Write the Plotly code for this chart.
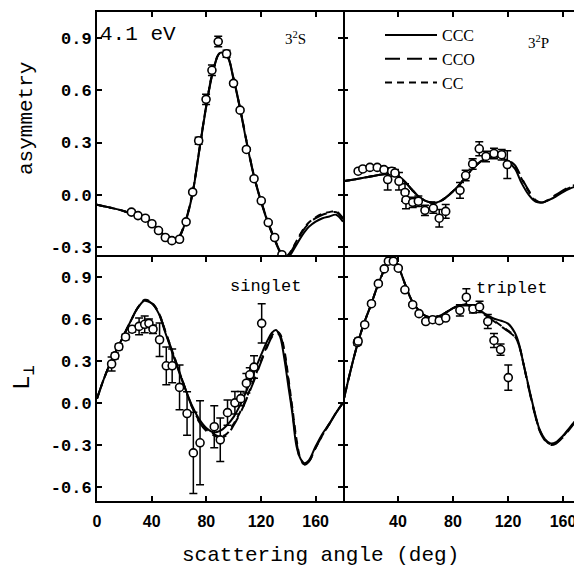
import plotly.graph_objects as go

# ---------------- data ----------------
# 3^2S asymmetry (top-left)
s_ang = [0, 10, 20, 30, 40, 45, 50, 55, 60, 65, 70, 75, 80, 85, 90, 95, 100, 105, 110, 115, 120,
         125, 130, 135, 138, 141, 145, 150, 155, 160, 165, 170, 175, 180]
s_ccc = [-0.058, -0.075, -0.095, -0.125, -0.165, -0.20, -0.24, -0.27, -0.245, -0.15, 0.01, 0.26, 0.51,
         0.71, 0.815, 0.80, 0.66, 0.48, 0.28, 0.10, -0.04, -0.16, -0.26, -0.345, -0.365, -0.35, -0.30,
         -0.235, -0.185, -0.155, -0.135, -0.125, -0.115, -0.155]
s_cco = [-0.058, -0.075, -0.095, -0.125, -0.165, -0.20, -0.24, -0.268, -0.242, -0.145, 0.015, 0.265, 0.515,
         0.715, 0.815, 0.80, 0.665, 0.485, 0.285, 0.105, -0.035, -0.155, -0.255, -0.34, -0.36, -0.34, -0.285,
         -0.215, -0.165, -0.135, -0.115, -0.105, -0.10, -0.14]
s_cc = [-0.058, -0.075, -0.095, -0.125, -0.165, -0.20, -0.24, -0.268, -0.242, -0.145, 0.015, 0.265, 0.515,
        0.715, 0.815, 0.80, 0.665, 0.485, 0.285, 0.105, -0.035, -0.155, -0.255, -0.34, -0.355, -0.335, -0.28,
        -0.21, -0.16, -0.13, -0.11, -0.10, -0.095, -0.135]
s_exp_ang = [25.2, 30, 35.4, 40.2, 45, 50, 54.8, 60.4, 65.2, 70, 74.4, 79.8, 84.1, 88.7, 94.8, 99.9,
             104.7, 109.3, 114.9, 120.2, 125.3, 130, 135.3]
s_exp_val = [-0.10, -0.12, -0.135, -0.167, -0.206, -0.246, -0.264, -0.256, -0.156, 0.015, 0.31, 0.548,
             0.715, 0.88, 0.81, 0.64, 0.486, 0.26, 0.092, -0.035, -0.16, -0.246, -0.345]
s_exp_err = [0.01, 0.01, 0.01, 0.01, 0.01, 0.01, 0.01, 0.01, 0.01, 0.01, 0.02, 0.03, 0.03, 0.03, 0.02,
             0.01, 0.01, 0.01, 0.01, 0.01, 0.01, 0.01, 0.01]

# 3^2P asymmetry (top-right)
p_ang = [0, 10, 20, 30, 35, 40, 45, 50, 55, 60, 65, 70, 75, 80, 85, 90, 95, 100, 105, 110, 115, 120,
         125, 130, 135, 140, 145, 150, 155, 160, 165, 170, 175]
p_ccc = [0.077, 0.09, 0.105, 0.118, 0.12, 0.108, 0.075, 0.03, -0.01, -0.035, -0.045, -0.04, -0.015, 0.02,
         0.06, 0.11, 0.155, 0.19, 0.21, 0.22, 0.215, 0.19, 0.15, 0.065, 0.0, -0.04, -0.045, -0.03, -0.01,
         0.015, 0.035, 0.05, 0.065]
p_cco = [0.077, 0.09, 0.105, 0.118, 0.12, 0.108, 0.075, 0.03, -0.01, -0.035, -0.045, -0.04, -0.015, 0.02,
         0.06, 0.11, 0.155, 0.19, 0.21, 0.22, 0.218, 0.20, 0.17, 0.095, 0.025, -0.03, -0.045, -0.025, 0.0,
         0.025, 0.045, 0.06, 0.075]
p_cc = [0.077, 0.09, 0.105, 0.118, 0.12, 0.108, 0.075, 0.03, -0.01, -0.035, -0.045, -0.04, -0.015, 0.02,
        0.06, 0.11, 0.155, 0.19, 0.21, 0.22, 0.217, 0.195, 0.165, 0.09, 0.02, -0.035, -0.045, -0.028, -0.005,
        0.02, 0.04, 0.055, 0.07]
p_exp_ang = [11, 14.4, 19.6, 24.9, 29.8, 32.5, 35.4, 37.8, 40.7, 45.1, 45.8, 50.7, 54.8, 59.6, 65.7, 70,
             74.7, 85.1, 89.2, 94.3, 99.1, 104, 109.8, 115.4, 119.5]
p_exp_val = [0.135, 0.148, 0.157, 0.157, 0.144, 0.087, 0.135, 0.125, 0.077, 0.013, -0.03, -0.044, -0.038,
             -0.09, -0.077, -0.135, -0.096, 0.025, 0.11, 0.177, 0.264, 0.22, 0.237, 0.23, 0.173]
p_exp_err = [0.01, 0.01, 0.01, 0.01, 0.01, 0.06, 0.02, 0.02, 0.05, 0.05, 0.05, 0.03, 0.03, 0.03, 0.03,
             0.05, 0.04, 0.045, 0.03, 0.03, 0.04, 0.03, 0.03, 0.03, 0.08]

# singlet L_perp (bottom-left)
sg_ang = [0, 5, 10, 15, 20, 25, 30, 35, 40, 45, 50, 55, 60, 65, 70, 75, 80, 85, 90, 95, 100, 105, 110,
          115, 120, 125, 128, 131, 134, 137, 140, 143, 146, 149, 152, 155, 160, 165, 170, 175, 180]
sg_ccc = [0.03, 0.17, 0.29, 0.39, 0.49, 0.59, 0.68, 0.73, 0.71, 0.64, 0.50, 0.36, 0.22, 0.09, -0.03,
          -0.12, -0.18, -0.21, -0.20, -0.16, -0.10, -0.01, 0.10, 0.22, 0.34, 0.45, 0.50, 0.52, 0.47, 0.32,
          0.12, -0.08, -0.31, -0.40, -0.43, -0.41, -0.31, -0.22, -0.15, -0.07, 0.0]
sg_cco = [0.03, 0.17, 0.29, 0.39, 0.49, 0.59, 0.68, 0.725, 0.71, 0.645, 0.51, 0.37, 0.23, 0.09, -0.04,
          -0.14, -0.20, -0.23, -0.25, -0.23, -0.16, -0.07, 0.04, 0.16, 0.29, 0.41, 0.47, 0.50, 0.48, 0.36,
          0.16, -0.06, -0.28, -0.41, -0.44, -0.42, -0.32, -0.23, -0.15, -0.07, 0.0]
sg_cc = [0.03, 0.17, 0.29, 0.39, 0.49, 0.59, 0.68, 0.735, 0.715, 0.645, 0.51, 0.37, 0.23, 0.09, -0.04,
         -0.13, -0.19, -0.22, -0.24, -0.22, -0.15, -0.06, 0.05, 0.17, 0.30, 0.42, 0.48, 0.51, 0.49, 0.38,
         0.18, -0.04, -0.26, -0.40, -0.44, -0.42, -0.32, -0.23, -0.15, -0.07, 0.0]
sg_exp_ang = [10.7, 13.1, 16, 20.9, 25.7, 30.8, 34.9, 38, 41, 45.8, 50.7, 55, 60.4, 65.9, 70.5, 75.4,
              85.8, 90.2, 95.5, 100.9, 105.2, 109.3, 111.8, 114.9, 120.5]
sg_exp_val = [0.277, 0.335, 0.40, 0.47, 0.525, 0.545, 0.56, 0.567, 0.525, 0.45, 0.264, 0.264, 0.11,
              -0.076, -0.357, -0.285, -0.17, -0.264, -0.07, 0.0, 0.03, 0.14, 0.20, 0.255, 0.567]
sg_exp_err = [0.05, 0.02, 0.02, 0.02, 0.02, 0.06, 0.06, 0.03, 0.03, 0.12, 0.135, 0.12, 0.16, 0.155, 0.29,
              0.30, 0.15, 0.155, 0.09, 0.08, 0.05, 0.07, 0.05, 0.08, 0.14]

# triplet L_perp (bottom-right)
tr_ang = [0, 5, 10, 15, 20, 25, 30, 33, 36, 39, 42, 45, 50, 55, 60, 65, 70, 75, 80, 85, 90, 95, 100, 105,
          110, 115, 120, 125, 128, 131, 134, 137, 140, 143, 147, 151, 155, 160, 165, 170, 175]
tr_ccc = [0.0, 0.21, 0.40, 0.56, 0.69, 0.83, 0.95, 1.01, 1.03, 1.0, 0.93, 0.85, 0.73, 0.66, 0.62, 0.61,
          0.62, 0.645, 0.675, 0.695, 0.70, 0.685, 0.655, 0.625, 0.60, 0.585, 0.565, 0.50, 0.42, 0.29, 0.16,
          0.03, -0.09, -0.19, -0.26, -0.29, -0.28, -0.235, -0.175, -0.115, -0.06]
tr_cco = [0.0, 0.21, 0.40, 0.56, 0.69, 0.83, 0.95, 1.01, 1.03, 1.0, 0.93, 0.85, 0.73, 0.66, 0.62, 0.61,
          0.62, 0.645, 0.675, 0.695, 0.70, 0.68, 0.65, 0.615, 0.58, 0.545, 0.51, 0.47, 0.41, 0.29, 0.15,
          0.02, -0.10, -0.20, -0.27, -0.30, -0.29, -0.245, -0.185, -0.125, -0.07]
tr_cc = [0.0, 0.21, 0.40, 0.56, 0.69, 0.83, 0.95, 1.01, 1.03, 1.0, 0.93, 0.85, 0.73, 0.66, 0.62, 0.61,
         0.62, 0.645, 0.675, 0.695, 0.70, 0.682, 0.652, 0.62, 0.585, 0.55, 0.515, 0.475, 0.41, 0.29, 0.155,
         0.025, -0.095, -0.195, -0.265, -0.295, -0.285, -0.24, -0.18, -0.12, -0.065]
tr_exp_ang = [10.5, 11, 15.8, 20.7, 25.7, 30, 33, 36.6, 40.2, 45, 50.7, 55.3, 60.2, 65.2, 70, 74.7, 85,
              89.7, 94.5, 99.3, 105.3, 109.8, 114.6, 120.2]
tr_exp_val = [0.43, 0.44, 0.557, 0.707, 0.85, 0.955, 1.01, 1.01, 0.96, 0.806, 0.70, 0.636, 0.58, 0.593,
              0.586, 0.605, 0.66, 0.753, 0.67, 0.684, 0.58, 0.445, 0.38, 0.18]
tr_exp_err = [0.02, 0.02, 0.01, 0.01, 0.01, 0.01, 0.01, 0.01, 0.01, 0.01, 0.01, 0.01, 0.01, 0.01, 0.01,
              0.01, 0.04, 0.06, 0.03, 0.04, 0.05, 0.05, 0.04, 0.09]

top_ticks = [-0.3, 0.0, 0.3, 0.6, 0.9]
bot_ticks = [-0.6, -0.3, 0.0, 0.3, 0.6, 0.9]
left_xticks = [0, 40, 80, 120, 160]
right_xticks = [40, 80, 120, 160]

# ---------------- layout helpers ----------------
OFF = 8  # page body margin of the html page
W, H = 582 - OFF, 573 - OFF
L, T, R, B = 97 - OFF, 12 - OFF, 0, 72
PW, PH = W - L - R, H - T - B


def pxx(x):
    return (x - OFF - L) / PW


def pxy(y):
    return (T + PH - (y - OFF)) / PH


XSPLIT = pxx(343)
YSPLIT = pxy(257)
RIGHT_MAX = (582 - 343) / 55 * 40

MONO = "Liberation Mono, DejaVu Sans Mono, monospace"
SERIF = "Liberation Serif, DejaVu Serif, serif"
SANS = "Liberation Sans Narrow, Liberation Sans, Arial, sans-serif"

fig = go.Figure()

panels = [
    ("x", "y", s_ang, s_ccc, s_cco, s_cc, s_exp_ang, s_exp_val, s_exp_err, True),
    ("x2", "y2", p_ang, p_ccc, p_cco, p_cc, p_exp_ang, p_exp_val, p_exp_err, False),
    ("x3", "y3", sg_ang, sg_ccc, sg_cco, sg_cc, sg_exp_ang, sg_exp_val, sg_exp_err, False),
    ("x4", "y4", tr_ang, tr_ccc, tr_cco, tr_cc, tr_exp_ang, tr_exp_val, tr_exp_err, False),
]

for xa, ya, ang, ccc, cco, cc, ea, ev, ee, leg in panels:
    fig.add_trace(go.Scatter(x=ang, y=cc, xaxis=xa, yaxis=ya, mode="lines", name="CC",
                             line=dict(color="black", width=2, dash="7px,5px", shape="spline"),
                             showlegend=leg, legendrank=3))
    fig.add_trace(go.Scatter(x=ang, y=cco, xaxis=xa, yaxis=ya, mode="lines", name="CCO",
                             line=dict(color="black", width=2, dash="15px,7px", shape="spline"),
                             showlegend=leg, legendrank=2))
    fig.add_trace(go.Scatter(x=ang, y=ccc, xaxis=xa, yaxis=ya, mode="lines", name="CCC",
                             line=dict(color="black", width=2, shape="spline"),
                             showlegend=leg, legendrank=1))
    fig.add_trace(go.Scatter(x=ea, y=ev, xaxis=xa, yaxis=ya, mode="markers", showlegend=False,
                             marker=dict(symbol="circle", size=8, color="white",
                                         line=dict(color="black", width=1.6)),
                             error_y=dict(type="data", array=ee, color="black", thickness=1.5, width=4)))

base = dict(linewidth=2, linecolor="black", ticks="inside", ticklen=5, tickwidth=1.5,
            tickcolor="black", showgrid=False, zeroline=False)
xtickfont = dict(family=SANS, size=16, color="black", weight="bold")
ytickfont = dict(family=MONO, size=17, color="black", weight="bold")

fig.update_layout(
    width=W, height=H,
    margin=dict(l=L, r=R, t=T, b=B),
    paper_bgcolor="white", plot_bgcolor="white",
    # top panels: x axes drawn only along the top edge
    xaxis=dict(domain=[0, XSPLIT], range=[0, 180], anchor="y", side="top", tickvals=left_xticks,
               showticklabels=False, showline=True, mirror=False, **base),
    yaxis=dict(domain=[YSPLIT, 1], range=[-0.358, 1.05], anchor="x", tickvals=top_ticks,
               ticktext=["%.1f" % v for v in top_ticks], tickfont=ytickfont,
               showline=True, mirror="ticks", **base),
    xaxis2=dict(domain=[XSPLIT, 1], range=[0, RIGHT_MAX], anchor="y2", side="top", tickvals=right_xticks,
                showticklabels=False, showline=True, mirror=False, **base),
    yaxis2=dict(domain=[YSPLIT, 1], range=[-0.358, 1.05], anchor="x2", tickvals=top_ticks,
                showticklabels=False, showline=False, **base),
    xaxis3=dict(domain=[0, XSPLIT], range=[0, 180], anchor="y3", tickvals=left_xticks,
                tickfont=xtickfont, ticklabelstandoff=5, showline=True, mirror="ticks", **base),
    yaxis3=dict(domain=[0, YSPLIT], range=[-0.70, 1.04], anchor="x3", tickvals=bot_ticks,
                ticktext=["%.1f" % v for v in bot_ticks], tickfont=ytickfont,
                showline=True, mirror="ticks", **base),
    xaxis4=dict(domain=[XSPLIT, 1], range=[0, RIGHT_MAX], anchor="y4", tickvals=right_xticks,
                tickfont=xtickfont, ticklabelstandoff=5, showline=True, mirror="ticks", **base),
    yaxis4=dict(domain=[0, YSPLIT], range=[-0.70, 1.04], anchor="x4", tickvals=bot_ticks,
                showticklabels=False, showline=False, **base),
    legend=dict(x=pxx(380), y=pxy(18), xanchor="left", yanchor="top", bgcolor="rgba(0,0,0,0)",
                font=dict(family=SERIF, size=16, color="black"), itemwidth=52,
                tracegroupgap=0, traceorder="normal"),
    showlegend=True,
)

ann = [
    dict(text="4.1 eV", x=pxx(98), y=pxy(35), xanchor="left", yanchor="middle",
         font=dict(family=MONO, size=21, color="black")),
    dict(text="3<sup>2</sup>S", x=pxx(295), y=pxy(38), xanchor="center", yanchor="middle",
         font=dict(family=SERIF, size=15, color="black")),
    dict(text="3<sup>2</sup>P", x=pxx(538), y=pxy(42), xanchor="center", yanchor="middle",
         font=dict(family=SERIF, size=15, color="black")),
    dict(text="singlet", x=pxx(265), y=pxy(286), xanchor="center", yanchor="middle",
         font=dict(family=MONO, size=17, color="black")),
    dict(text="triplet", x=pxx(511), y=pxy(288), xanchor="center", yanchor="middle",
         font=dict(family=MONO, size=17, color="black")),
    dict(text="asymmetry", x=pxx(26), y=pxy(119), xanchor="center", yanchor="middle", textangle=-90,
         font=dict(family=MONO, size=21, color="black")),
    dict(text="L<sub>⊥</sub>", x=pxx(24), y=pxy(378), xanchor="center", yanchor="middle", textangle=-90,
         font=dict(family=MONO, size=24, color="black")),
    dict(text="scattering angle (deg)", x=pxx(320), y=pxy(555), xanchor="center", yanchor="middle",
         font=dict(family=MONO, size=21, color="black")),
]
for a in ann:
    a.update(xref="paper", yref="paper", showarrow=False)
fig.update_layout(annotations=ann)

fig.write_html("out.html")
